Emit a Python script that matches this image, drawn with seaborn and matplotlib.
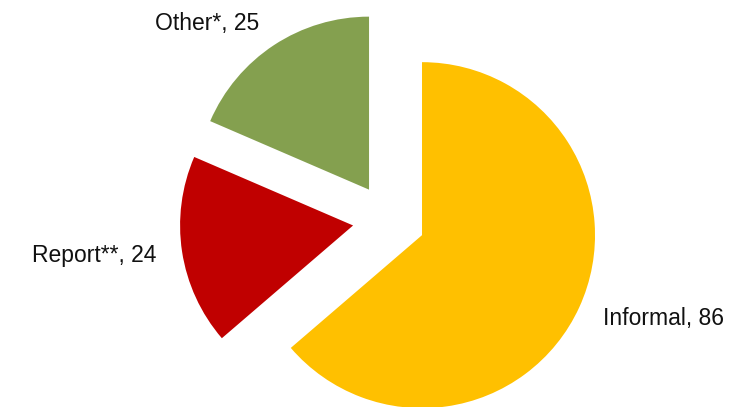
import matplotlib
matplotlib.use('Agg')
import matplotlib.pyplot as plt
import seaborn as sns

sns.set_theme(style='white')
plt.rcParams['font.family'] = ['Liberation Sans', 'DejaVu Sans']

# =========================
#  DATA
# =========================

categories = ['Informal', 'Report**', 'Other*']
values = [86, 24, 25]
colors = ['#FFC000', '#C00000', '#84A04F']


def plot_pie():
    fig = plt.figure(figsize=(7.36, 4.07), dpi=100)
    ax = fig.add_axes([0, 0, 1, 1])

    labels = [f'{c}, {v}' for c, v in zip(categories, values)]
    wedges, texts = ax.pie(
        values,
        labels=labels,
        colors=sns.color_palette(colors),
        startangle=90,
        counterclock=False,
        explode=[0.21] * len(values),
        labeldistance=1.15,
        textprops={'fontsize': 16.5, 'color': '#111111'},
        wedgeprops={'linewidth': 0},
    )

    # one data unit ~ 173 px, centre at (389, 220) px
    ax.set_xlim(-389 / 173, (736 - 389) / 173)
    ax.set_ylim((220 - 407) / 173, 220 / 173)
    ax.set_aspect('auto')
    ax.axis('off')

    fig.savefig('out.png', dpi=100)
    plt.close(fig)


if __name__ == '__main__':
    plot_pie()
